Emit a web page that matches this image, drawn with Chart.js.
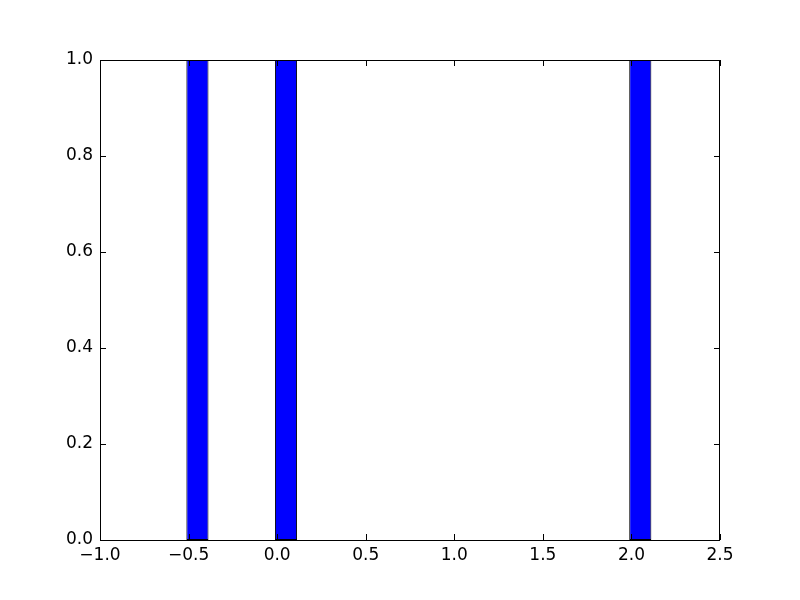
<!DOCTYPE html>
<html>
<head>
<meta charset="utf-8">
<script src="https://cdn.jsdelivr.net/npm/chart.js@4/dist/chart.umd.min.js"></script>
<style>
  html, body { margin: 0; padding: 0; background: #fff; }
  #wrap { width: 800px; height: 600px; }
</style>
</head>
<body>
<div id="wrap"><canvas id="hist" width="800" height="600"></canvas></div>
<script>
// histogram bins (centre of each bar) and counts
const binCenters = [-0.45, 0.05, 2.05];
const counts = [1, 1, 1];
// axis ranges
const xRange = [-1.0, 2.5];
const yRange = [0.0, 1.0];
const xStep = 0.5;
const yStep = 0.2;

const fmt = (v) => {
  const s = Number(v).toFixed(1);
  return s.startsWith('-') ? '\u2212' + s.slice(1) : s;
};

// frame + inward ticks on all four sides (matplotlib classic look)
const frameTicks = {
  id: 'frameTicks',
  afterDatasetsDraw(chart) {
    const {ctx, chartArea: a, scales} = chart;
    const L = 6;
    ctx.save();
    ctx.strokeStyle = '#000';
    ctx.lineWidth = 1;
    ctx.beginPath();
    scales.x.ticks.forEach((t, i) => {
      const px = Math.round(scales.x.getPixelForTick(i)) + 0.5;
      ctx.moveTo(px, a.bottom); ctx.lineTo(px, a.bottom - L);
      ctx.moveTo(px, a.top); ctx.lineTo(px, a.top + L);
    });
    scales.y.ticks.forEach((t, i) => {
      const py = Math.round(scales.y.getPixelForTick(i)) + 0.5;
      ctx.moveTo(a.left, py); ctx.lineTo(a.left + L, py);
      ctx.moveTo(a.right, py); ctx.lineTo(a.right - L, py);
    });
    ctx.stroke();
    ctx.strokeRect(a.left + 0.5, a.top + 0.5, a.right - a.left - 1, a.bottom - a.top);
    ctx.restore();
  }
};

Chart.defaults.font.family = '"DejaVu Sans", sans-serif';
Chart.defaults.font.size = 17;
Chart.defaults.color = '#000';

new Chart(document.getElementById('hist').getContext('2d'), {
  type: 'bar',
  data: {
    datasets: [{
      data: binCenters.map((x, i) => ({x, y: counts[i]})),
      backgroundColor: '#0000ff',
      borderColor: '#000',
      borderWidth: 1,
      borderSkipped: false,
      categoryPercentage: 0.25,
      barPercentage: 1.0
    }]
  },
  options: {
    responsive: false,
    animation: false,
    events: [],
    layout: { padding: { top: 60, right: 80, left: 0, bottom: 0 } },
    plugins: { legend: { display: false }, tooltip: { enabled: false } },
    scales: {
      x: {
        type: 'linear',
        offset: false,
        min: xRange[0], max: xRange[1],
        ticks: { stepSize: xStep, callback: fmt, padding: 5, maxRotation: 0 },
        grid: { display: false, drawTicks: false },
        border: { display: false },
        afterFit(s) { s.height = 60; }
      },
      y: {
        min: yRange[0], max: yRange[1],
        ticks: { stepSize: yStep, callback: fmt, padding: 7 },
        grid: { display: false, drawTicks: false },
        border: { display: false },
        afterFit(s) { s.width = 100; }
      }
    }
  },
  plugins: [frameTicks]
});
</script>
</body>
</html>
